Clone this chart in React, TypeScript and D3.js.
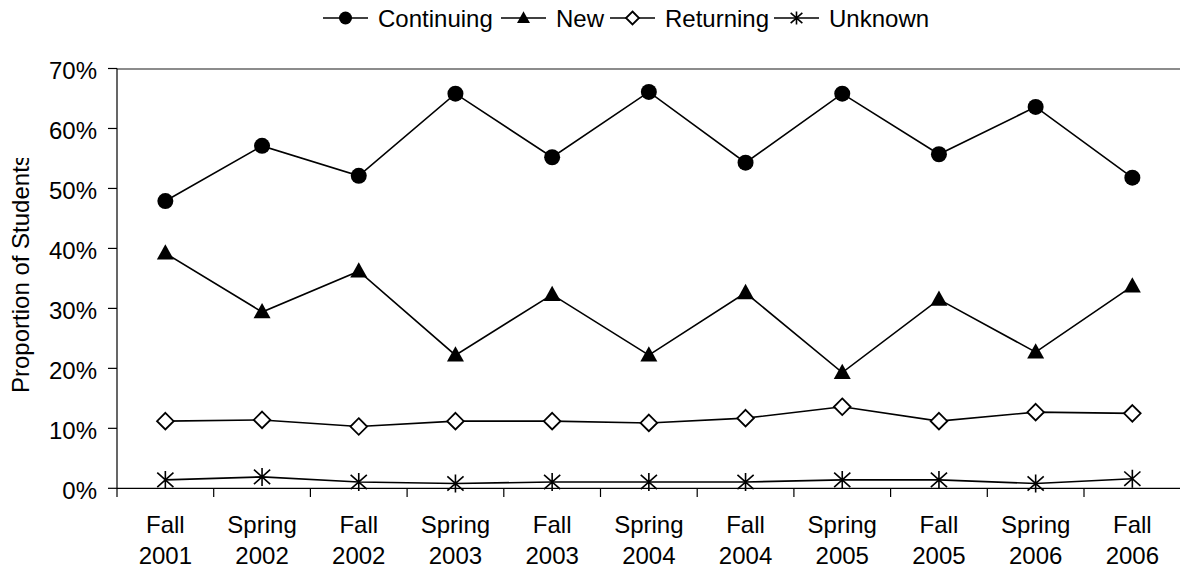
import React from "react";
import * as d3 from "d3";

const categories = [
  ["Fall", "2001"], ["Spring", "2002"], ["Fall", "2002"], ["Spring", "2003"],
  ["Fall", "2003"], ["Spring", "2004"], ["Fall", "2004"], ["Spring", "2005"],
  ["Fall", "2005"], ["Spring", "2006"], ["Fall", "2006"],
];
const continuing = [47.9, 57.1, 52.1, 65.8, 55.2, 66.1, 54.3, 65.8, 55.7, 63.6, 51.8];
const newStudents = [39.2, 29.4, 36.2, 22.2, 32.3, 22.2, 32.6, 19.3, 31.5, 22.7, 33.7];
const returning = [11.2, 11.4, 10.3, 11.2, 11.2, 10.9, 11.7, 13.6, 11.2, 12.7, 12.5];
const unknown = [1.4, 1.9, 1.05, 0.8, 1.05, 1.05, 1.05, 1.4, 1.4, 0.8, 1.6];
const yTicks = [0, 10, 20, 30, 40, 50, 60, 70];
const seriesNames = ["Continuing", "New", "Returning", "Unknown"];

const FONT = "'Liberation Sans', Arial, sans-serif";

function Marker({ kind, x, y, s }: { kind: string; x: number; y: number; s: number }) {
  if (kind === "circle") return <circle cx={x} cy={y} r={s} fill="#000" />;
  if (kind === "triangle")
    return (
      <path
        d={`M${x},${y - s * 1.05} L${x + s},${y + s * 0.75} L${x - s},${y + s * 0.75} Z`}
        fill="#000"
      />
    );
  if (kind === "diamond")
    return (
      <path
        d={`M${x},${y - s} L${x + s},${y} L${x},${y + s} L${x - s},${y} Z`}
        fill="#fff"
        stroke="#000"
        strokeWidth={1.8}
      />
    );
  return (
    <path
      d={`M${x},${y - s} L${x},${y + s} M${x - s * 0.9},${y - s * 0.8} L${x + s * 0.9},${y + s * 0.8} M${x - s * 0.9},${y + s * 0.8} L${x + s * 0.9},${y - s * 0.8}`}
      stroke="#000"
      strokeWidth={1.6}
      fill="none"
    />
  );
}

export default function App() {
  const W = 1180, H = 575;
  const left = 117, bandW = 96.7;
  const x = d3
    .scaleBand<number>()
    .domain(d3.range(categories.length))
    .range([left, left + bandW * categories.length]);
  const y = d3.scaleLinear().domain([0, 70]).range([488.3, 68.5]);
  const cx = (i: number) => (x(i) as number) + x.bandwidth() / 2;

  const series = [
    { name: seriesNames[0], data: continuing, kind: "circle", s: 8 },
    { name: seriesNames[1], data: newStudents, kind: "triangle", s: 8.5 },
    { name: seriesNames[2], data: returning, kind: "diamond", s: 8.3 },
    { name: seriesNames[3], data: unknown, kind: "star", s: 9 },
  ];
  const line = d3
    .line<number>()
    .x((_, i) => cx(i))
    .y((d) => y(d));

  const legendX = [323, 501, 610, 774];
  const legendKinds = ["circle", "triangle", "diamond", "star"];

  return (
    <svg
      width={W}
      height={H}
      style={{ position: "absolute", left: 0, top: 0, background: "#fff" }}
      fontFamily={FONT}
    >
      <rect width={W} height={H} fill="#fff" />
      <defs>
        <clipPath id="titleClip">
          <rect x={0} y={158} width={60} height={300} />
        </clipPath>
      </defs>
      {/* top plot border */}
      <line x1={left} x2={W} y1={69} y2={69} stroke="#8c8c8c" strokeWidth={2} />
      {/* y axis */}
      <line x1={left} x2={left} y1={68.5} y2={488.3} stroke="#000" strokeWidth={1.2} />
      {yTicks.map((t) => (
        <g key={t}>
          <line x1={108} x2={left} y1={y(t)} y2={y(t)} stroke="#000" strokeWidth={1.2} />
          <text x={97} y={y(t) + 10.5} textAnchor="end" fontSize={24} fill="#000">
            {t}%
          </text>
        </g>
      ))}
      {/* x axis */}
      <line x1={left} x2={W} y1={488.3} y2={488.3} stroke="#000" strokeWidth={1.2} />
      {d3.range(categories.length + 1).map((i) => (
        <line
          key={i}
          x1={left + i * x.bandwidth()}
          x2={left + i * x.bandwidth()}
          y1={488.3}
          y2={497}
          stroke="#000"
          strokeWidth={1.2}
        />
      ))}
      {categories.map((c, i) => (
        <text key={i} textAnchor="middle" fontSize={24} fill="#000">
          <tspan x={cx(i)} y={533}>{c[0]}</tspan>
          <tspan x={cx(i)} y={564}>{c[1]}</tspan>
        </text>
      ))}
      {/* y title */}
      <g clipPath="url(#titleClip)">
        <text
          transform="translate(29,393) rotate(-90)"
          fontSize={24}
          fill="#000"
          textAnchor="start"
        >
          Proportion of Students
        </text>
      </g>
      {/* series */}
      {series.map((s) => (
        <g key={s.name}>
          <path d={line(s.data) as string} fill="none" stroke="#000" strokeWidth={1.6} />
          {s.data.map((d, i) => (
            <Marker key={i} kind={s.kind} x={cx(i)} y={y(d)} s={s.s} />
          ))}
        </g>
      ))}
      {/* legend */}
      {seriesNames.map((n, i) => (
        <g key={n}>
          <line x1={legendX[i]} x2={legendX[i] + 45} y1={18} y2={18} stroke="#000" strokeWidth={1.6} />
          <Marker kind={legendKinds[i]} x={legendX[i] + 22.5} y={18} s={6.5} />
          <text x={legendX[i] + 55} y={26.5} fontSize={24} fill="#000">
            {n}
          </text>
        </g>
      ))}
    </svg>
  );
}
